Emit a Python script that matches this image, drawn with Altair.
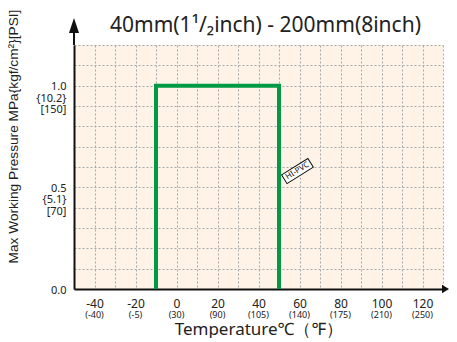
import altair as alt
import pandas as pd

# ---------------- data ----------------
line_temp = [-10, -10, 50, 50]
line_press = [0.0, 1.0, 1.0, 0.0]
line_order = [0, 1, 2, 3]

x_label_values = [-40, -20, 0, 20, 40, 60, 80, 100, 120]
x_label_c = ["-40", "-20", "0", "20", "40", "60", "80", "100", "120"]
x_label_f = ["(-40)", "(-5)", "(30)", "(90)", "(105)", "(140)", "(175)", "(210)", "(250)"]
x_grid = [-50, -40, -30, -20, -10, 0, 10, 20, 30, 40, 50, 60, 70, 80, 90, 100, 110, 120, 130]

y_label_values = [0.0, 0.5, 1.0]
y_label_lines = [["0.0"], ["0.5", "{5.1}", "[70]"], ["1.0", "{10.2}", "[150]"]]
y_grid = [0.0, 0.1, 0.2, 0.3, 0.4, 0.5, 0.6, 0.7, 0.8, 0.9, 1.0, 1.1, 1.2]

series_name = ["HI-PVC"]
series_label_temp = [59]
series_label_press = [0.58]

title_text = "40mm(1¹/₂inch) - 200mm(8inch)"
x_title = "Temperature℃（℉）"
y_title = "Max Working Pressure MPa{kgf/cm²}[PSI]"

# ---------------- styles ----------------
GREEN = "#009a44"
FONT = "Noto Sans"
TXT = "#222222"

line_df = pd.DataFrame({"t": line_temp, "p": line_press, "o": line_order})
flab_df = pd.DataFrame({"t": x_label_values, "f": x_label_f})
lab_df = pd.DataFrame({"t": series_label_temp, "p": series_label_press, "name": series_name})
one = pd.DataFrame({"k": [0]})

x_expr = "".join(f"datum.value == {v} ? '{s}' : " for v, s in zip(x_label_values, x_label_c)) + "''"
y_parts = []
for v, lines in zip(y_label_values, y_label_lines):
    arr = "[" + ",".join("'" + s + "'" for s in lines) + "]"
    y_parts.append(f"abs(datum.value - {v}) < 0.001 ? {arr} : ")
y_expr = "".join(y_parts) + "''"

xscale = alt.Scale(domain=[-50, 130], nice=False, zero=False)
yscale = alt.Scale(domain=[0, 1.2], nice=False, zero=False)

x_axis = alt.Axis(
    values=x_grid, labelExpr=x_expr, grid=True, ticks=False,
    gridColor="#a8a8a8", gridDash=[2, 2], gridWidth=1,
    domainColor="#111111", domainWidth=2,
    labelFont=FONT, labelFontSize=12, labelColor=TXT, labelPadding=9,
    labelBaseline="top", labelFlush=False, labelOverlap=False, labelBound=False,
    title=x_title, titleFont=FONT, titleFontSize=17, titleFontWeight="normal",
    titleColor=TXT, titleY=40, titleBaseline="middle",
)
y_axis = alt.Axis(
    values=y_grid, labelExpr=y_expr, grid=True, ticks=False,
    gridColor="#a8a8a8", gridDash=[2, 2], gridWidth=1,
    domainColor="#111111", domainWidth=2,
    labelFont=FONT, labelFontSize=11, labelColor=TXT, labelPadding=8,
    labelBaseline="top", labelOffset=-5, labelLineHeight=11.5,
    labelFlush=False, labelOverlap=False, labelBound=False,
    title=y_title, titleFont="Liberation Sans", titleFontSize=13.7,
    titleFontWeight="normal", titleColor=TXT, titleX=-61, titleY=91,
    titleAngle=270, titleAlign="center", titleBaseline="middle",
)

X = alt.X("t:Q", scale=xscale, axis=x_axis)
Y = alt.Y("p:Q", scale=yscale, axis=y_axis)

green = alt.Chart(line_df).mark_line(color=GREEN, strokeWidth=4, strokeJoin="miter").encode(
    x=X, y=Y, order="o:O",
)

flabels = alt.Chart(flab_df).mark_text(
    font=FONT, fontSize=9, color=TXT, baseline="middle", align="center"
).encode(x=X, y=alt.value(270), text="f:N")

box = alt.Chart(lab_df).mark_point(
    shape="M-1,-0.33L1,-0.33L1,0.33L-1,0.33Z", size=961, filled=True,
    fill="white", stroke="#111111", strokeWidth=1, opacity=1, angle=328,
).encode(x=X, y=Y)

boxtext = alt.Chart(lab_df).mark_text(
    font=FONT, fontSize=8, color="#111111", angle=328, align="center", baseline="middle"
).encode(x=X, y=Y, text="name:N")

yarrow_line = alt.Chart(one).mark_rule(color="#111111", strokeWidth=2, clip=False).encode(
    x=alt.value(0), y=alt.value(0), y2=alt.value(-14))
yarrow_head = alt.Chart(one).mark_point(
    shape="M0,0L0.67,2L-0.67,2Z", size=225, filled=True, color="#111111", opacity=1, clip=False
).encode(x=alt.value(0), y=alt.value(-27))
xarrow_head = alt.Chart(one).mark_point(
    shape="M0,0L-2,-1.2L-2,1.2Z", size=49, filled=True, color="#111111", opacity=1, clip=False
).encode(x=alt.value(375), y=alt.value(244))

chart = alt.layer(
    green, flabels, box, boxtext, yarrow_line, yarrow_head, xarrow_head
).properties(
    width=369, height=244,
    title=alt.Title(title_text, font=FONT, fontSize=21, fontWeight="normal", color=TXT,
                    anchor="middle", frame="group", offset=-44, dx=7, baseline="alphabetic"),
    autosize=alt.AutoSizeParams(type="none"),
    padding={"left": 66, "top": 37, "right": 6, "bottom": 49},
).configure_view(fill="#fef3e6", stroke=None)

chart.save("out.html", embed_options={"renderer": "svg", "actions": False})
